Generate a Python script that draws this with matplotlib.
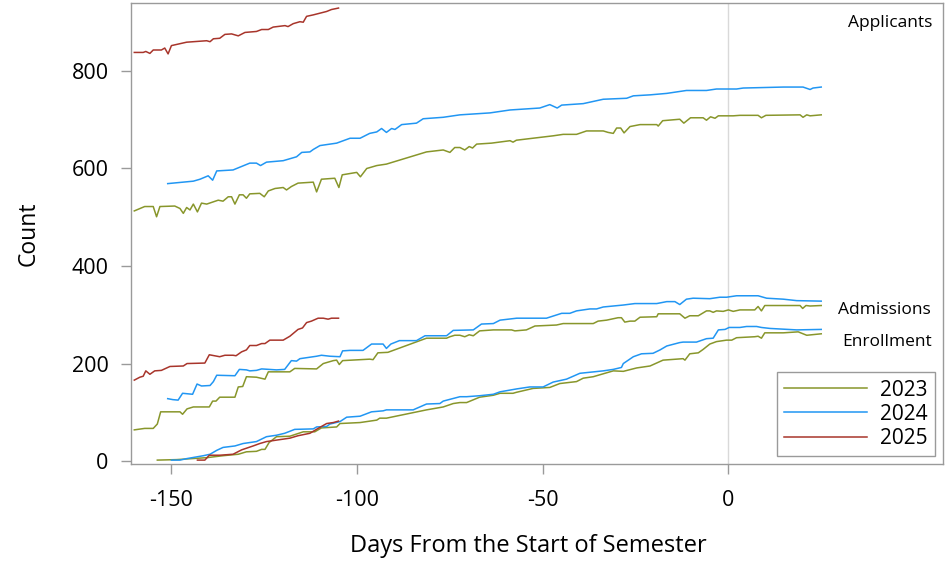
import matplotlib
matplotlib.use("Agg")
import matplotlib.pyplot as plt

plt.rcParams['font.family'] = ['Open Sans', 'DejaVu Sans']
plt.rcParams['axes.unicode_minus'] = False

# ---- data (days from start of semester, counts) ----
app23_day = [-160, -157.2, -154.9, -154, -153.1, -149.1, -147.7, -146.8, -145.9, -145,
             -144.1, -143, -141.9, -140.5, -137.4, -136.1, -134.7, -133.8, -132.9, -131.7,
             -130.7, -129.8, -128.9, -126.2, -125, -123.9, -122.1, -119.9, -119, -117.7,
             -115.9, -111.8, -110.9, -109.6, -106, -104.9, -104, -100.1, -99.1, -97.4,
             -94.7, -92.1, -81.3, -76.8, -75, -73.7, -72.3, -71, -69.8, -68.9,
             -67.8, -63.8, -58.8, -58, -57.1, -47.2, -44.5, -40.9, -38.2, -33.7,
             -32.4, -31, -30.1, -29, -28.1, -26.5, -23.8, -19.3, -18.9, -17.7,
             -13.1, -12, -10.2, -6.8, -5.9, -4.8, -3.6, -2.7, 1.3, 3.1,
             8, 8.9, 10.1, 19.3, 20.1, 21.1, 22, 25]
app23 = [513, 522, 522, 501, 522, 523, 518, 508, 520, 515,
         527, 511, 529, 527, 535, 533, 542, 542, 527, 546,
         546, 539, 548, 549, 542, 554, 559, 561, 556, 563,
         570, 572, 552, 578, 580, 561, 587, 592, 583, 600,
         606, 609, 634, 638, 633, 643, 643, 638, 645, 642,
         650, 652, 657, 654, 658, 667, 670, 670, 677, 677,
         674, 672, 683, 683, 673, 686, 690, 690, 687, 698,
         701, 693, 704, 704, 699, 706, 703, 708, 708, 709,
         709, 704, 709, 710, 705, 710, 708, 710]

app24_day = [-151, -144.1, -142.3, -140.1, -138.9, -137.8, -133.4, -128.9, -127.1, -126,
             -124.4, -119.9, -116.3, -114.9, -112.7, -111.8, -110, -105.5, -101.9, -99.2,
             -96.6, -94.7, -93.4, -92.1, -90.7, -89.8, -88, -84, -82.2, -76.8,
             -72.3, -64.2, -58.8, -50.8, -48.1, -46.1, -44.9, -39.1, -33.7, -27.4,
             -25.6, -21.1, -16.6, -11.3, -5.9, -3.2, 2.2, 4, 14.8, 20.1,
             22, 22.8, 25]
app24 = [569, 574, 578, 585, 576, 595, 597, 611, 611, 606,
         613, 616, 624, 633, 634, 639, 647, 652, 662, 662,
         672, 675, 682, 674, 682, 680, 690, 693, 702, 705,
         710, 714, 720, 724, 731, 724, 730, 733, 742, 744,
         749, 751, 754, 760, 760, 763, 763, 765, 767, 767,
         762, 765, 767]

app25_day = [-160, -157.6, -156.9, -155.8, -154.9, -152.7, -151.8, -150.9, -150, -145.9,
             -140.5, -139.6, -138.7, -137, -135.6, -133.8, -132, -130.2, -127.1, -125.7,
             -123.9, -122.6, -119.4, -118.6, -117.2, -115.4, -114.5, -113.6, -111.8, -108.2,
             -106.9, -105]
app25 = [838, 838, 840, 836, 843, 843, 847, 835, 852, 859,
         862, 860, 866, 867, 875, 876, 872, 879, 881, 885,
         885, 890, 893, 891, 897, 901, 900, 912, 915, 922,
         926, 929]

adm23_day = [-160, -157.2, -154.9, -153.8, -152.9, -147.7, -147, -145.8, -144.1, -139.8,
             -138.9, -138, -137, -132.9, -132, -130.8, -129.8, -127.1, -124.8, -123.9,
             -118.1, -116.8, -110.9, -109.1, -106.4, -105.5, -104.8, -103.9, -96.6, -95.7,
             -94.4, -91.7, -83.1, -81.3, -75.9, -75, -73.7, -72.3, -71, -69.8,
             -68.7, -67, -63.3, -58.4, -57.5, -54.4, -52.1, -46.3, -44.5, -36.4,
             -35.1, -32.8, -29.7, -28.8, -27.9, -26.5, -25.2, -23.8, -19.3, -18.9,
             -13.1, -11.7, -10.4, -8.1, -5.9, -5, -4.1, -3.2, -1.4, 0,
             1.3, 3.1, 7.1, 8, 8.9, 9.8, 19.3, 20, 20.9, 22, 25]
adm23 = [64, 67, 67, 76, 101, 101, 96, 107, 111, 111,
         123, 123, 131, 131, 152, 153, 173, 172, 168, 183,
         183, 190, 189, 200, 206, 207, 198, 206, 209, 208,
         222, 223, 247, 252, 252, 255, 258, 258, 255, 259,
         257, 267, 269, 269, 267, 269, 277, 279, 282, 282,
         287, 289, 294, 294, 285, 287, 287, 295, 296, 302,
         302, 293, 298, 298, 308, 308, 305, 308, 307, 310,
         307, 310, 310, 317, 308, 319, 319, 313, 319, 318, 319]

adm24_day = [-151, -149.6, -148.2, -147, -144.3, -143.1, -141.9, -139.6, -138.7, -137.8,
             -132.9, -131.7, -129.8, -128.9, -127.1, -125.7, -121.7, -119.5, -117.7, -116.3,
             -115.4, -110.9, -109.6, -107.3, -104.6, -103.9, -101.9, -98.4, -96.1, -93,
             -92.1, -90.9, -88.6, -84, -81.7, -75.9, -74.1, -68.7, -66.5, -63.3,
             -61.5, -57, -49, -44.9, -42.7, -40.9, -37.3, -35.5, -33.7, -28.3,
             -25.2, -19.3, -16.6, -14.4, -13.1, -11.3, -9.5, -5, -2.3, -0.5,
             2.2, 8, 10.3, 14.8, 18.4, 25]
adm24 = [128, 126, 125, 139, 137, 158, 154, 155, 163, 176,
         175, 188, 187, 185, 186, 189, 187, 188, 206, 205,
         210, 215, 217, 215, 214, 226, 227, 227, 240, 240,
         231, 240, 247, 247, 257, 257, 268, 269, 281, 282,
         289, 293, 293, 303, 303, 308, 312, 312, 316, 320,
         323, 323, 327, 327, 321, 332, 334, 333, 336, 336,
         339, 339, 334, 332, 329, 328]

adm25_day = [-160, -158.5, -157.6, -156.9, -155.8, -154.5, -152.7, -150.4, -146.8, -145.8,
             -141, -139.8, -137, -135.6, -133.4, -132.6, -131.1, -129.8, -128.9, -127.1,
             -125.7, -124.8, -123.5, -119.9, -118.1, -115.9, -114.7, -113.6, -112.3, -110.5,
             -109.1, -107.8, -106.9, -105]
adm25 = [166, 172, 174, 185, 178, 185, 186, 194, 195, 200,
         201, 218, 214, 217, 217, 216, 224, 228, 237, 237,
         241, 241, 248, 248, 256, 270, 273, 284, 287, 293,
         293, 291, 293, 293]

enr23_day = [-153.8, -148.6, -140.5, -136.1, -132, -129.8, -127.1, -125.7, -124.8, -123.7,
             -121.7, -118.1, -114.5, -111.4, -109.6, -105.5, -104.6, -99.2, -94.7, -93.9,
             -92.1, -81.3, -76.8, -74.1, -72.3, -70.5, -67, -63.3, -61.5, -58,
             -57.1, -52.6, -48.1, -45.4, -40.9, -39.1, -36.4, -31, -28.3, -24.7,
             -21.1, -17.6, -12.2, -11.7, -10.4, -8.1, -6.8, -5, -3.2, -0.5,
             0.9, 2.2, 7.1, 8, 8.9, 9.8, 14.8, 18.8, 21.1, 25]
enr23 = [2, 3, 7, 11, 14, 19, 20, 24, 24, 38,
         50, 51, 60, 60, 68, 70, 77, 79, 84, 88,
         88, 105, 111, 118, 120, 120, 131, 135, 139, 139,
         141, 149, 151, 159, 163, 170, 173, 185, 184, 191,
         195, 207, 210, 207, 220, 222, 229, 240, 245, 248,
         248, 253, 255, 256, 252, 263, 263, 265, 258, 261]

enr24_day = [-150, -147.7, -145.9, -141.4, -139.6, -137.8, -136.1, -132.9, -130.7, -127.1,
             -124.4, -121.7, -119.5, -116.8, -111.8, -110.9, -108.2, -107.3, -104.6, -102.8,
             -99.2, -96.1, -93, -92.1, -84.9, -81.3, -77.7, -76.8, -72.3, -70.5,
             -67, -63.3, -61.5, -57, -53.5, -49.9, -47.2, -43.6, -40, -33.7,
             -31, -28.8, -28.3, -25.6, -23.4, -20.3, -18.4, -16.6, -13.1, -12.2,
             -8.6, -5.9, -4.1, -2.7, -0.9, 0.2, 3.1, 4.9, 7.6, 8.9,
             11.2, 18.4, 25]
enr24 = [2, 2, 5, 11, 14, 22, 28, 31, 36, 40,
         50, 53, 57, 65, 66, 70, 71, 76, 81, 90,
         92, 101, 103, 105, 105, 117, 118, 123, 132, 132,
         134, 137, 142, 148, 152, 152, 162, 168, 180, 185,
         188, 192, 200, 214, 220, 221, 228, 236, 243, 244,
         244, 251, 252, 269, 270, 274, 274, 276, 276, 274,
         272, 269, 270]

enr25_day = [-143, -141, -139.8, -137, -133.4, -131.1, -128, -126.2, -124.4, -119.9,
             -118.1, -115.9, -112.7, -110.5, -108.2, -106.4, -105]
enr25 = [2, 2, 12, 12, 14, 23, 31, 36, 40, 45,
         47, 52, 57, 67, 77, 79, 82]

years = ['2023', '2024', '2025']
colors = {'2023': '#88962b', '2024': '#2196f3', '2025': '#a8352b'}
series = {
    '2023': [(app23_day, app23), (adm23_day, adm23), (enr23_day, enr23)],
    '2024': [(app24_day, app24), (adm24_day, adm24), (enr24_day, enr24)],
    '2025': [(app25_day, app25), (adm25_day, adm25), (enr25_day, enr25)],
}

fig = plt.figure(figsize=(9.51, 5.61), dpi=100)
ax = fig.add_axes([0.1377, 0.1729, 0.8539, 0.8223])

ax.axvline(0, color='#d9d9d9', lw=1.0, zorder=0)

for yr in years:
    for i, (d, v) in enumerate(series[yr]):
        ax.plot(d, v, color=colors[yr], lw=1.1, label=yr if i == 0 else None)

ax.set_xlim(-160.9, 57.8)
ax.set_ylim(-6, 940)
ax.set_xticks([-150, -100, -50, 0])
ax.set_yticks([0, 200, 400, 600, 800])

for sp in ax.spines.values():
    sp.set_color('#9a9a9a')
    sp.set_linewidth(1.0)
ax.tick_params(colors='#9a9a9a', labelcolor='black', length=7, width=1.0,
               labelsize=15.5)
ax.tick_params(axis='y', pad=9)
ax.tick_params(axis='x', pad=12)

ax.set_xlabel('Days From the Start of Semester', fontsize=17, labelpad=16, x=0.49)
ax.set_ylabel('Count', fontsize=16.5, labelpad=22)

ax.text(0.987, 0.955, 'Applicants', transform=ax.transAxes, ha='right',
        va='center', fontsize=12.5)
ax.text(0.985, 0.333, 'Admissions', transform=ax.transAxes, ha='right',
        va='center', fontsize=12.5)
ax.text(0.986, 0.265, 'Enrollment', transform=ax.transAxes, ha='right',
        va='center', fontsize=12.5)

leg = ax.legend(loc='lower right', bbox_to_anchor=(0.99, 0.017), borderaxespad=0,
                fontsize=15, fancybox=False, framealpha=1, handlelength=4.0,
                labelspacing=0.15, borderpad=0.35, handletextpad=0.6)
leg.get_frame().set_edgecolor('#9a9a9a')
leg.get_frame().set_linewidth(1.0)

fig.savefig('out.png', dpi=100)
